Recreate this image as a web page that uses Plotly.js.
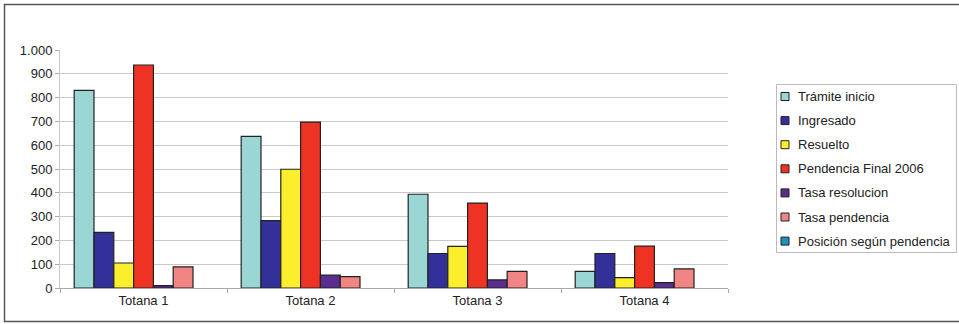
<!DOCTYPE html>
<html>
<head>
<meta charset="utf-8">
<script src="https://cdn.plot.ly/plotly-3.0.1.min.js"></script>
<style>html,body{margin:0;padding:0;background:#fff;}#chart{width:959px;height:324px;}</style>
</head>
<body>
<div id="chart"></div>
<script>
const categories = ["Totana 1", "Totana 2", "Totana 3", "Totana 4"];
const seriesNames = ["Trámite inicio", "Ingresado", "Resuelto", "Pendencia Final 2006", "Tasa resolucion", "Tasa pendencia", "Posición según pendencia"];
const tramiteInicio = [830, 637, 394, 70];
const ingresado = [234, 283, 145, 145];
const resuelto = [105, 499, 175, 44];
const pendenciaFinal2006 = [937, 697, 357, 176];
const tasaResolucion = [10, 54, 34, 23];
const tasaPendencia = [89, 48, 70, 80];
const posicionSegunPendencia = [0, 0, 0, 0];
const yTickVals = [0, 100, 200, 300, 400, 500, 600, 700, 800, 900, 1000];

const seriesValues = [tramiteInicio, ingresado, resuelto, pendenciaFinal2006, tasaResolucion, tasaPendencia, posicionSegunPendencia];
const colors = ["#99d6d4", "#33309a", "#fbee2c", "#ee3325", "#5a2d8e", "#f08584", "#1e8fc0"];

// plot area in pixels: left 60, right 728, top 50, bottom 288
const PL = 60, PR = 728, PT = 50, PB = 288;
const px = x => (x - PL) / (PR - PL);
const py = y => (PB - y) / (PB - PT);

const traces = seriesNames.map((name, i) => ({
  type: "bar",
  name: name,
  x: categories,
  y: seriesValues[i],
  marker: { color: colors[i], line: { color: "#222", width: seriesValues[i].every(v => v === 0) ? 0 : 1.2 } },
  hoverinfo: "x+y+name"
}));

// manual legend (layout decoration)
const shapes = [{
  type: "rect", xref: "paper", yref: "paper",
  x0: px(4.5), x1: px(964), y0: py(321.5), y1: py(4.5),
  line: { color: "#555", width: 1.5 }, fillcolor: "rgba(0,0,0,0)", layer: "below"
}, {
  type: "rect", xref: "paper", yref: "paper",
  x0: px(776.5), x1: px(956.5), y0: py(252.5), y1: py(84.5),
  line: { color: "#bbb", width: 1 }, fillcolor: "#fff", layer: "below"
}];
const annotations = [];
seriesNames.forEach((name, i) => {
  const cy = 96.5 + i * 24.1;
  shapes.push({
    type: "rect", xref: "paper", yref: "paper",
    x0: px(781), x1: px(789), y0: py(cy + 4), y1: py(cy - 4),
    line: { color: "#222", width: 1 }, fillcolor: colors[i]
  });
  annotations.push({
    xref: "paper", yref: "paper", x: px(796), y: py(cy),
    xanchor: "left", yanchor: "middle", showarrow: false,
    text: name, font: { size: 13, color: "#222" }
  });
});

const layout = {
  width: 959,
  height: 324,
  margin: { l: PL, r: 959 - PR, t: PT, b: 324 - PB },
  paper_bgcolor: "#fff",
  plot_bgcolor: "#fff",
  separators: ",.",
  font: { family: "Liberation Sans, Arial, sans-serif", size: 13, color: "#222" },
  barmode: "group",
  bargap: 0.17,
  bargroupgap: 0,
  showlegend: false,
  xaxis: {
    type: "category",
    showgrid: false,
    showline: true,
    linecolor: "#aaa",
    linewidth: 1,
    ticks: "outside",
    tickson: "boundaries",
    ticklen: 4,
    tickcolor: "#aaa",
    tickfont: { size: 13, color: "#222" },
    zeroline: false
  },
  yaxis: {
    range: [0, 1000],
    tickvals: yTickVals,
    tickformat: ",d",
    showgrid: true,
    gridcolor: "#c8c8c8",
    gridwidth: 1,
    showline: true,
    linecolor: "#c8c8c8",
    ticks: "outside",
    ticklen: 4,
    tickcolor: "#aaa",
    tickfont: { size: 13, color: "#222" },
    zeroline: false
  },
  shapes: shapes,
  annotations: annotations
};

Plotly.newPlot("chart", traces, layout, { displayModeBar: false, staticPlot: true });
</script>
</body>
</html>
